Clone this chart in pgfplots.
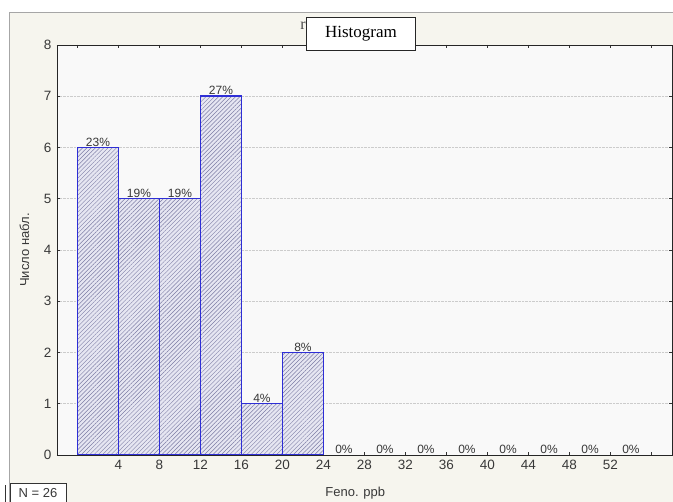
\documentclass[border=0pt]{standalone}
\usepackage{fontspec}
\setmainfont{Liberation Sans}
\newfontfamily\seriffont{Liberation Serif}
\usepackage{pgfplots}
\usepackage{pgfplotstable}
\pgfplotsset{compat=1.18}
\usetikzlibrary{patterns.meta}
\definecolor{frameBg}{HTML}{F6F5EE}
\definecolor{plotBg}{HTML}{F9F9F9}
\definecolor{barEdge}{HTML}{2E2ED6}
\definecolor{barFill}{HTML}{E6E6F2}
\definecolor{hatch}{HTML}{7C7CA4}
\definecolor{txt}{HTML}{383838}

% left edges of the bins, counts (last row closes the interval)
\pgfplotstableread{
x y
0 6
4 5
8 5
12 7
16 1
20 2
24 0
}\bins

% bin centres, counts, percent of N = 26
\pgfplotstableread{
x y p
2 6 23
6 5 19
10 5 19
14 7 27
18 1 4
22 2 8
26 0 0
30 0 0
34 0 0
38 0 0
42 0 0
46 0 0
50 0 0
54 0 0
}\pct

\begin{document}
\begin{tikzpicture}
\path[use as bounding box] (0,0) rectangle (673pt,502pt);
\fill[frameBg] (9pt,0) rectangle (673pt,490pt);
\draw[gray!70, line width=0.9pt] (9pt,0) -- (9pt,490pt) -- (673pt,490pt);
\draw[black!80, line width=0.8pt] (5pt,0) -- (5pt,17pt);

\begin{axis}[
  at={(57pt,47pt)}, anchor=south west,
  scale only axis, width=615pt, height=410pt,
  xmin=-2, xmax=58, ymin=0, ymax=8,
  axis background/.style={fill=plotBg},
  axis line style={black!85, line width=0.9pt},
  xtick={0,4,...,56},
  xticklabels={{},4,8,12,16,20,24,28,32,36,40,44,48,52,{}},
  ytick={0,1,...,8},
  tick align=inside,
  major tick length=3pt,
  tick style={black!80, line width=0.9pt},
  ymajorgrids,
  grid style={densely dotted, gray!40, line width=0.7pt},
  /pgf/number format/assume math mode=true,
  tick label style={font=\fontsize{13.5}{15}\selectfont, text=txt},
  xticklabel style={yshift=-2pt},
  yticklabel style={xshift=-2pt},
  xlabel={Feno. ppb},
  ylabel={Число набл.},
  xlabel style={at={(axis description cs:0.485,0)}, anchor=center, yshift=-38pt, font=\fontsize{13}{15}\selectfont, text=txt},
  ylabel style={at={(axis description cs:-0.053,0.5)}, anchor=center, font=\fontsize{13}{15}\selectfont, text=txt},
]
% hatched fill of the bars
\addplot[ybar interval, draw=none,
  preaction={fill=barFill},
  pattern={Lines[angle=45,distance=3pt,line width=0.45pt]}, pattern color=hatch]
  table[x=x, y=y] {\bins};
% blue outlines of the same bars
\addplot[ybar interval, draw=barEdge, fill=none, line width=1.5pt]
  table[x=x, y=y] {\bins};
\addplot[draw=none, mark=none, point meta=explicit,
  nodes near coords={\pgfmathprintnumber[fixed,precision=0]{\pgfplotspointmeta}\%},
  every node near coord/.append style={font=\fontsize{12}{14}\selectfont, text=txt, anchor=south, inner sep=1pt}]
  table[x=x, y=y, meta=p] {\pct};
\end{axis}

\node[font=\seriffont\fontsize{16}{18}\selectfont, text=gray!60!black] at (303pt,476pt) {r};
\node[draw=black!85, line width=0.8pt, fill=white, minimum width=109pt, minimum height=33pt,
  inner sep=0pt, font=\seriffont\fontsize{17}{19}\selectfont] at (361pt,468pt) {Histogram};
\node[draw=black!80, line width=0.8pt, fill=white, minimum width=56pt, minimum height=20pt,
  inner sep=0pt, font=\fontsize{13}{15}\selectfont, text=txt] at (38pt,9pt) {N = 26};
\end{tikzpicture}
\end{document}
